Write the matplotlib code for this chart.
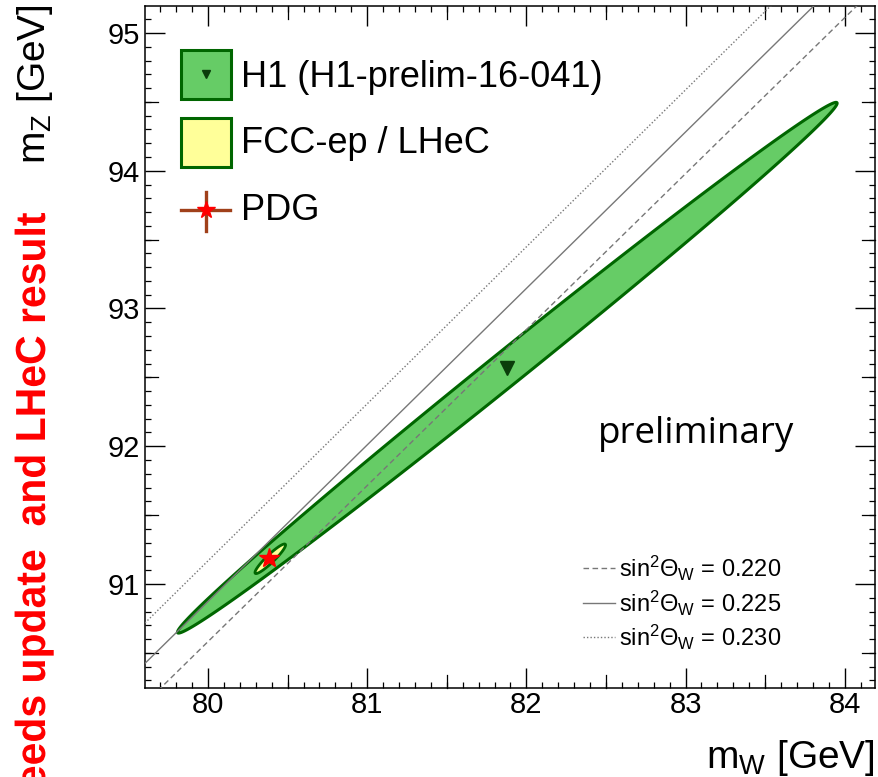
import numpy as np
import matplotlib
matplotlib.use('Agg')
import matplotlib.pyplot as plt
import matplotlib.transforms as mtransforms
from matplotlib.patches import Polygon, Rectangle, PathPatch
from matplotlib.textpath import TextPath
from matplotlib.font_manager import FontProperties
from matplotlib.ticker import MultipleLocator

plt.rcParams['font.family'] = ['Liberation Sans', 'DejaVu Sans']
plt.rcParams['mathtext.fontset'] = 'custom'
plt.rcParams['mathtext.rm'] = 'Liberation Sans'
plt.rcParams['mathtext.it'] = 'Liberation Sans'
plt.rcParams['mathtext.sf'] = 'Liberation Sans'

# H1 fit (mW, mZ) and its contour: half-length along the long axis, half-height at the centre
h1_mw, h1_mz = 81.88, 92.57
h1_axis = (2.072, 1.920)
h1_width = 0.156

# FCC-ep / LHeC projection
fcc_mw, fcc_mz = 80.391, 91.183
fcc_axis = (0.096, 0.100)
fcc_width = 0.039

# PDG world average
pdg_mw, pdg_mz = 80.385, 91.1876
pdg_err_mw, pdg_err_mz = 0.015, 0.0021

# lines of constant weak mixing angle
sin2_values = [0.220, 0.225, 0.230]
sin2_styles = [(0, (4, 2.5)), '-', (0, (1, 1.5))]

xmin, xmax = 79.604, 84.19
ymin, ymax = 90.245, 95.196

W, H = 879, 777
green_fill = '#66cc66'
green_edge = '#006600'


def contour(mw, mz, axis, width, n=600):
    t = np.linspace(0, 2 * np.pi, n)
    x = mw + axis[0] * np.cos(t)
    y = mz + axis[1] * np.cos(t) + width * np.sin(t)
    return np.column_stack([x, y])


fig = plt.figure(figsize=(W / 100, H / 100), dpi=100)
ax = fig.add_axes([145 / W, 1 - 688 / H, 730 / W, 682 / H])
ax.set_xlim(xmin, xmax)
ax.set_ylim(ymin, ymax)

ax.add_patch(Polygon(contour(h1_mw, h1_mz, h1_axis, h1_width), closed=True,
                     fc=green_fill, ec=green_edge, lw=2.2, zorder=2))

mw = np.linspace(xmin, xmax, 300)
for s, ls in zip(sin2_values, sin2_styles):
    ax.plot(mw, mw / np.sqrt(1 - s), color='#777777', lw=1.0, ls=ls, zorder=3)

ax.add_patch(Polygon(contour(fcc_mw, fcc_mz, fcc_axis, fcc_width), closed=True,
                     fc='#ffff99', ec=green_edge, lw=2.0, zorder=4))
ax.plot(h1_mw, h1_mz, marker='v', color='#0b3d0b', ms=10.5, zorder=5)
ax.errorbar(pdg_mw, pdg_mz, xerr=pdg_err_mw, yerr=pdg_err_mz, color='#a0401a',
            lw=2, zorder=5)
ax.plot(pdg_mw, pdg_mz, marker='*', color='red', ms=15, mec='red', zorder=6)

# axes and ROOT style ticks
ax.xaxis.set_major_locator(MultipleLocator(1))
ax.xaxis.set_minor_locator(MultipleLocator(0.1))
ax.yaxis.set_major_locator(MultipleLocator(1))
ax.yaxis.set_minor_locator(MultipleLocator(0.1))
ax.tick_params(which='both', direction='in', top=True, right=True)
ax.tick_params(which='major', length=14.4, width=1.0, labelsize=21)
ax.tick_params(which='minor', length=4.3, width=0.9)
ax.tick_params(axis='x', which='major', pad=2.5)
ax.tick_params(axis='y', which='major', pad=3.6)
for sp in ax.spines.values():
    sp.set_linewidth(1.1)

tx = mtransforms.blended_transform_factory(ax.transData, ax.transAxes)
ty = mtransforms.blended_transform_factory(ax.transAxes, ax.transData)
lx, ly = 13 / 682, 13 / 730
for v in np.arange(80.5, xmax, 1.0):
    ax.plot([v, v], [0, lx], color='k', lw=0.9, transform=tx, clip_on=False)
    ax.plot([v, v], [1, 1 - lx], color='k', lw=0.9, transform=tx, clip_on=False)
for v in np.arange(90.5, ymax, 1.0):
    ax.plot([0, ly], [v, v], color='k', lw=0.9, transform=ty, clip_on=False)
    ax.plot([1, 1 - ly], [v, v], color='k', lw=0.9, transform=ty, clip_on=False)


def axf(px, py):
    return (px - 145) / 730, (688 - py) / 682


# legend
x0, y0 = axf(181, 99)
ax.add_patch(Rectangle((x0, y0), 50 / 730, 49 / 682, fc=green_fill, ec=green_edge,
                       lw=2.2, transform=ax.transAxes, zorder=7))
ax.plot(*axf(206, 74), marker='v', color='#0b3d0b', ms=6, transform=ax.transAxes, zorder=8)
x0, y0 = axf(181, 167)
ax.add_patch(Rectangle((x0, y0), 50 / 730, 49 / 682, fc='#ffff99', ec=green_edge,
                       lw=2.2, transform=ax.transAxes, zorder=7))
ax.plot(*zip(axf(181, 210), axf(230, 210)), color='#a0401a', lw=2.4,
        transform=ax.transAxes, zorder=7)
ax.plot(*zip(axf(206, 192), axf(206, 231)), color='#a0401a', lw=2.4,
        transform=ax.transAxes, zorder=7)
ax.plot(*axf(206, 210), marker='*', color='red', ms=13, transform=ax.transAxes, zorder=8)

for label, py in [('H1 (H1-prelim-16-041)', 77), ('FCC-ep / LHeC', 143), ('PDG', 210)]:
    ax.text(*axf(241, py), label, transform=ax.transAxes, va='center', ha='left',
            fontsize=26, zorder=8)

for s, ls, py in zip(sin2_values, sin2_styles, [568, 603, 637]):
    ax.plot(*zip(axf(583, py), axf(615, py)), color='#777777', lw=1.0, ls=ls,
            transform=ax.transAxes)
    ax.text(*axf(619, py), r'sin$^{2}\Theta_{W}$ = %.3f' % s, transform=ax.transAxes,
            va='center', ha='left', fontsize=17)

fig.text(875 / W, 1 - 768 / H, r'm$_{W}$ [GeV]', ha='right', va='baseline', fontsize=28)
fig.text(15 / W, 1 - 4 / H, r'm$_{Z}$ [GeV]', ha='left', va='top', rotation=90, fontsize=28)

fig.text(598 / W, 1 - 443 / H, 'preliminary', family=['Open Sans', 'DejaVu Sans'],
         fontsize=26.5, ha='left', va='baseline')

# condensed bold note along the left edge, running upwards
note = TextPath((0, 0), 'Needs update  and LHeC result', size=42,
                prop=FontProperties(family='Liberation Sans', weight='bold'))
note_len = note.get_extents().x1
squeeze = 0.975
note_tr = (mtransforms.Affine2D().scale(squeeze, 1).rotate_deg(90)
           .translate(45, (H - 213) - note_len * squeeze))
fig.add_artist(PathPatch(note, transform=note_tr, fc='red', ec='none'))

fig.savefig('out.png', dpi=100)
